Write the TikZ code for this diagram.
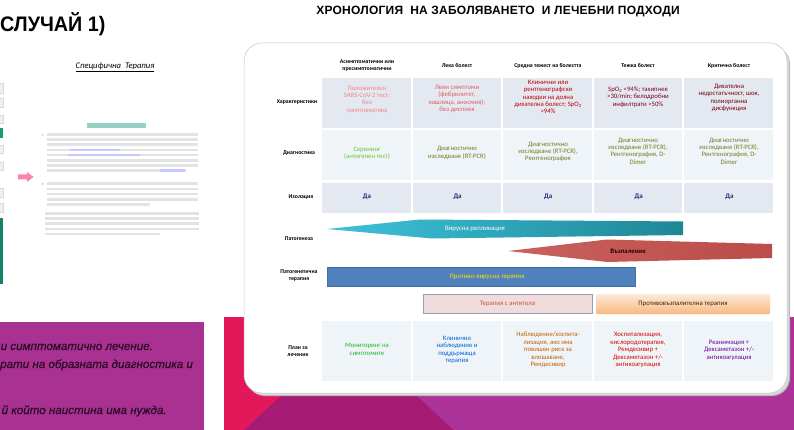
\documentclass[tikz,border=0pt]{standalone}
\usepackage{fontspec}
\setmainfont{Carlito}
\newfontfamily\headfont{Liberation Sans}[FakeStretch=0.94]
\newfontfamily\titlefont{Liberation Sans}[LetterSpace=2]
\newfontfamily\notefont{Liberation Sans}[FakeBold=0.4]
\usetikzlibrary{calc}

\definecolor{rowA}{HTML}{E3E8F1}
\definecolor{rowB}{HTML}{EEF4F7}
\definecolor{crimsonbg}{HTML}{E2185B}
\definecolor{magentabg}{HTML}{A61C74}
\definecolor{purplebg}{HTML}{AC3397}
\definecolor{leftbox}{HTML}{A93192}
\definecolor{notetext}{HTML}{2A0A25}
\definecolor{tealA}{HTML}{3EC2DA}
\definecolor{tealB}{HTML}{1E8796}
\definecolor{inflam}{HTML}{C4504D}
\definecolor{antiviral}{HTML}{4F81BD}
\definecolor{abpink}{HTML}{F2DCDB}
\definecolor{abframe}{HTML}{8EA0BE}
\definecolor{orangeA}{HTML}{FDE9D9}
\definecolor{orangeB}{HTML}{F9B880}
\definecolor{docteal}{HTML}{17997A}

\tikzset{
  rowlbl/.style={font=\fontsize{5.8}{6.9}\selectfont\bfseries, align=center, text=black, inner sep=0pt},
  colhdr/.style={font=\fontsize{5.8}{7.6}\selectfont\bfseries, align=center, text=black, inner sep=0pt},
  cellt/.style={font=\fontsize{6.7}{7.4}\selectfont, align=center, inner sep=0pt},
  yes/.style={font=\fontsize{7}{8}\selectfont\bfseries, text=blue!45!black!85, inner sep=0pt},
  docline/.style={fill=gray!22},
  sidebox/.style={fill=gray!12, draw=gray!30, line width=0.3pt}
}

\begin{document}
\begin{tikzpicture}[x=1pt,y=-1pt]
\useasboundingbox (0,0) rectangle (794,430);
\clip (0,0) rectangle (794,430);
\fill[white] (0,0) rectangle (794,430);

% ---------- left slide ----------
\node[anchor=west, inner sep=0pt, font=\headfont\bfseries\fontsize{21}{24}\selectfont] (casetitle) at (0,24) {СЛУЧАЙ 1)};
\node[inner sep=0pt, font=\itshape\fontsize{8.6}{10}\selectfont] (spec) at (115,67) {\underline{Специфична\ \ Терапия}};

% thumbnails along the left edge
\foreach \ya/\yb in {83/93, 98/107, 115/123, 145/153, 162/170, 188/197, 203/212}
  \filldraw[sidebox] (-2,\ya) rectangle (3,\yb);
\fill[docteal] (-2,128) rectangle (3,138);
\fill[docteal!85!black] (-2,218) rectangle (3,284);

% arrow pointing at the document
\fill[magenta!30!pink] (18,174.5) -- (27,174.5) -- (27,172) -- (33.5,177) -- (27,182) -- (27,179.5) -- (18,179.5) -- cycle;

% document page with its lines of text
\fill[docteal!45] (87,123.5) rectangle (146,128);
\fill[gray!45] (42.5,135) circle (1);
\fill[gray!45] (42.5,184) circle (1);
\foreach \k/\xe in {0/198, 1/198, 2/198, 3/198, 4/198, 5/198, 6/198, 7/186}
  \fill[docline] (47,{133+5.2*\k}) rectangle (\xe,{135.6+5.2*\k});
\fill[blue!22] (70,148.6) rectangle (120,151.2);
\fill[blue!22] (68,153.8) rectangle (140,156.4);
\fill[blue!22] (160,169.4) rectangle (185,172);
\foreach \k/\xe in {0/198, 1/198, 2/198, 3/198, 4/150}
  \fill[docline] (47,{182.5+5.2*\k}) rectangle (\xe,{185.1+5.2*\k});
\foreach \k/\xe in {0/199, 1/199, 2/199, 3/199, 4/160}
  \fill[docline] (45,{212+5.2*\k}) rectangle (\xe,{214.6+5.2*\k});

% magenta text panel
\fill[leftbox] (-2,322) rectangle (204,432);
\begin{scope}[every node/.style={anchor=base west, inner sep=0pt, text=notetext, font=\notefont\itshape\fontsize{11.6}{13}\selectfont}]
  \node (tl1) at (0.5,350) {и симптоматично лечение.};
  \node (tl2) at (0,368) {рати на образната диагностика и};
  \node (tl3) at (1.5,414) {й който наистина има нужда.};
\end{scope}

% ---------- right slide ----------
\node[inner sep=0pt, font=\titlefont\bfseries\fontsize{12}{14}\selectfont] (maintitle) at (498,11.5) {ХРОНОЛОГИЯ\ \ НА ЗАБОЛЯВАНЕТО\ \ И ЛЕЧЕБНИ ПОДХОДИ};

% coloured background band
\fill[crimsonbg] (224,317) rectangle (796,432);
\fill[magentabg] (242,432) -- (366,317) -- (796,317) -- (796,432) -- cycle;
\fill[purplebg] (456,432) -- (332,317) -- (796,317) -- (796,432) -- cycle;

% card with shadow
\fill[gray!55, rounded corners=18pt] (247,46) rectangle (790,396);
\fill[gray!30, rounded corners=18pt] (246,45) rectangle (789,395);
\filldraw[fill=white, draw=gray!45, line width=0.5pt, rounded corners=18pt] (244,43) rectangle (787,393);

% table cells
\foreach \i in {0,...,4} {
  \pgfmathsetmacro{\xa}{322+90.6*\i}
  \pgfmathsetmacro{\xb}{\xa+88.6}
  \fill[rowA] (\xa,78) rectangle (\xb,128);
  \fill[rowB] (\xa,130) rectangle (\xb,180);
  \fill[rowA] (\xa,183) rectangle (\xb,213);
  \fill[rowB] (\xa,321) rectangle (\xb,381);
}

% column headings
\node[colhdr] (h1) at (367,65.5) {Асимптоматични или\\пресимптоматични};
\node[colhdr] (h2) at (457,66) {Лека болест};
\node[colhdr] (h3) at (548,66) {Средна тежест на болестта};
\node[colhdr] (h4) at (638,66) {Тежка болест};
\node[colhdr] (h5) at (729,66) {Критична болест};

% row headings
\node[rowlbl] (r1) at (297,102) {Характеристики};
\node[rowlbl] (r2) at (299,153) {Диагностика};
\node[rowlbl] (r3) at (301,197) {Изолация};
\node[rowlbl] (r4) at (299,239) {Патогенеза};
\node[rowlbl] (r5) at (299,276) {Патогенетична\\терапия};
\node[rowlbl] (r6) at (298,351) {План за\\лечение};

% characteristics
\node[cellt, text=red!45!white!95!black] (c11) at (367,99) {Положителен\\SARS-CoV-2 тест;\\без\\симптоматика};
\node[cellt, text=red!60!white!90!black] (c12) at (457,99) {Леки симптоми\\(фебрилитет,\\кашлица, аносмия);\\без диспнея};
\node[cellt, text=red!75!black] (c13) at (548,97) {Клинични или\\рентгенографски\\находки на долна\\дихателна болест; SpO\textsubscript{2}\\>94\%};
\node[cellt, text=red!55!black!90!blue] (c14) at (638,97) {SpO\textsubscript{2} <94\%; тахипнея\\>30/min; белодробни\\инфилтрати >50\%};
\node[cellt, text=red!45!black] (c15) at (729,98) {Дихателна\\недостатъчност, шок,\\полиорганна\\дисфункция};

% diagnostics
\node[cellt, text=green!45!olive!80!white] (c21) at (367,153) {Скрининг\\(антигенен тест)};
\node[cellt, text=olive!85!green!80!black] (c22) at (457,153) {Диагностично\\изследване (RT-PCR)};
\node[cellt, text=olive!85!green!80!black] (c23) at (548,152) {Диагностично\\изследване (RT-PCR),\\Рентгенография};
\node[cellt, text=olive!85!green!80!black] (c24) at (638,151) {Диагностично\\изследване (RT-PCR),\\Рентгенография, D-\\Dimer};
\node[cellt, text=olive!85!green!80!black] (c25) at (729,151) {Диагностично\\изследване (RT-PCR),\\Рентгенография, D-\\Dimer};

% isolation
\foreach \i in {1,...,5}
  \node[yes] (iso\i) at ({367+90.6*(\i-1)},197) {Да};

% pathogenesis: viral replication and inflammation
\shade[left color=tealA, right color=tealB] (327,229) -- (420,219.5) -- (683,221.5) -- (683,235) -- (432,238.5) -- cycle;
\node[inner sep=0pt, text=white, font=\fontsize{6.8}{8}\selectfont] (viral) at (475,228.5) {Вирусна репликация};
\shade[left color=inflam!90!white, right color=inflam!95!black] (508,251) -- (607,239.5) -- (772,244) -- (772,258) -- (607,262) -- cycle;
\node[inner sep=0pt, text=black!85!red, font=\fontsize{6.8}{8}\selectfont\bfseries] (inflammation) at (628,251) {Възпаление};

% pathogenetic therapy bars
\filldraw[fill=antiviral, draw=antiviral!85!black, line width=0.4pt] (327,267) rectangle (635,286);
\node[inner sep=0pt, text=yellow!85!orange, font=\fontsize{6.8}{8}\selectfont] (antivir) at (487,277) {Противо-вирусна терапия};
\filldraw[fill=abpink, draw=abframe, line width=1pt] (423,294.5) rectangle (592,313.5);
\node[inner sep=0pt, text=inflam, font=\fontsize{6.8}{8}\selectfont] (antib) at (507.5,304) {Терапия с антитела};
\shade[top color=orangeA, bottom color=orangeB, rounded corners=1pt] (596,294) rectangle (770,314);
\node[inner sep=0pt, text=black!70!brown, font=\fontsize{6.8}{8}\selectfont] (antiinf) at (683,304) {Противовъзпалителна терапия};

% treatment plan
\node[cellt, text=green!65!black!85!white] (p1) at (367,349.5) {Мониторинг на\\симптомите};
\node[cellt, text=blue!55!cyan!85!black] (p2) at (457,350) {Клинично\\наблюдение и\\поддържаща\\терапия};
\node[cellt, text=orange!75!black] (p3) at (548,350) {Наблюдение/хоспита-\\лизация, ако има\\повишен риск за\\влошаване,\\Ремдесивир};
\node[cellt, text=red!85!black] (p4) at (638,350) {Хоспитализация,\\кислородотерапия,\\Ремдесивир +\\Дексаметазон +/-\\антикоагулация};
\node[cellt, text=violet!80!blue] (p5) at (729,350) {Реанимация +\\Дексаметазон +/-\\антикоагулация};
\end{tikzpicture}
\end{document}
